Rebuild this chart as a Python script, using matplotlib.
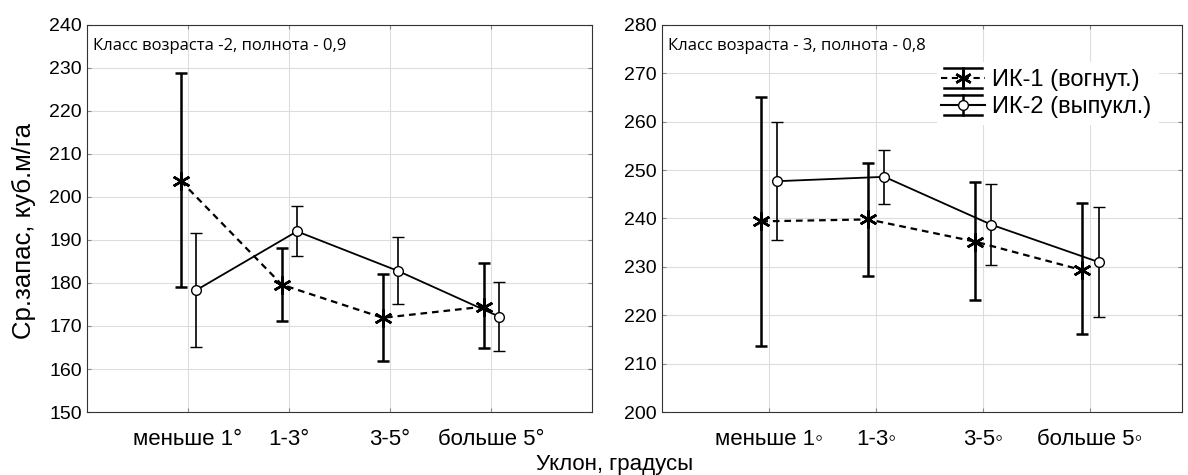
import numpy as np
import matplotlib
matplotlib.use("Agg")
import matplotlib.pyplot as plt
from matplotlib.lines import Line2D

plt.rcParams['font.family'] = ['Liberation Sans', 'DejaVu Sans']

cats_left = ["меньше 1°", "1-3°", "3-5°", "больше 5°"]
cats_right = ["меньше 1◦", "1-3◦", "3-5◦", "больше 5◦"]
labels = ['ИК-1 (вогнут.)', 'ИК-2 (выпукл.)']

# класс возраста 2, полнота 0,9
ik1_l = [203.7, 179.6, 171.9, 174.5]
ik1_l_lo = [179.0, 171.2, 161.8, 164.8]
ik1_l_hi = [228.8, 188.2, 182.1, 184.6]
ik2_l = [178.3, 192.0, 182.8, 172.2]
ik2_l_lo = [165.2, 186.2, 175.0, 164.3]
ik2_l_hi = [191.6, 198.0, 190.6, 180.3]

# класс возраста 3, полнота 0,8
ik1_r = [239.4, 239.8, 235.2, 229.3]
ik1_r_lo = [213.6, 228.1, 223.1, 216.1]
ik1_r_hi = [265.2, 251.4, 247.6, 243.2]
ik2_r = [247.7, 248.6, 238.7, 231.0]
ik2_r_lo = [235.5, 243.0, 230.3, 219.7]
ik2_r_hi = [260.0, 254.1, 247.2, 242.4]

star = (6, 2, 0)
dash = (0, (3, 2.2))


class ErrHandler:
    # рисует значок легенды как в statistica: линия, усы с широкими засечками, маркер
    def __init__(self, ls, marker, ms, mfc, mew, lw):
        self.ls, self.marker, self.ms, self.mfc, self.mew, self.lw = ls, marker, ms, mfc, mew, lw

    def legend_artist(self, legend, orig_handle, fontsize, handlebox):
        x0, y0 = -handlebox.xdescent, -handlebox.ydescent
        w, h = handlebox.width, handlebox.height
        cx, cy = x0 + w / 2, y0 + h / 2
        ext = 0.62 * h
        arts = [
            Line2D([x0 - 2, x0 + w + 2], [cy, cy], color='black', ls=self.ls, lw=1.5),
            Line2D([cx, cx], [cy - ext, cy + ext], color='black', lw=self.lw),
            Line2D([x0, x0 + w], [cy - ext, cy - ext], color='black', lw=self.lw),
            Line2D([x0, x0 + w], [cy + ext, cy + ext], color='black', lw=self.lw),
            Line2D([cx], [cy], color='black', ls='none', marker=self.marker, ms=self.ms,
                   mfc=self.mfc, mew=self.mew),
        ]
        for a in arts:
            a.set_transform(handlebox.get_transform())
            handlebox.add_artist(a)
        return arts[0]


fig = plt.figure(figsize=(11.88, 4.75), dpi=100)
ax1 = fig.add_axes([0.0732, 0.1326, 0.425, 0.815])
ax2 = fig.add_axes([0.557, 0.1326, 0.438, 0.815])


def draw(ax, m1, lo1, hi1, m2, lo2, hi2, cats, ylim, xmax, note):
    x = np.arange(1, 5)
    m1, lo1, hi1 = map(np.array, (m1, lo1, hi1))
    m2, lo2, hi2 = map(np.array, (m2, lo2, hi2))
    h1 = ax.errorbar(x - 0.07, m1, yerr=[m1 - lo1, hi1 - m1], color='black', ls=dash,
                     lw=1.6, marker=star, ms=13, mew=1.8, capsize=4, elinewidth=1.8, capthick=1.8)
    h1[-1][0].set_linestyle('-')
    ax.errorbar(x + 0.08, m2, yerr=[m2 - lo2, hi2 - m2], color='black', ls='-', lw=1.3,
                marker='o', ms=7, mfc='white', mew=1, capsize=4, elinewidth=1.2, capthick=1.2)
    ax.set_xlim(0, xmax)
    ax.set_ylim(*ylim)
    ax.set_xticks(x)
    ax.set_xticklabels(cats)
    ax.set_yticks(np.arange(ylim[0], ylim[1] + 1, 10))
    ax.grid(True, color='#dddddd', lw=0.8)
    ax.tick_params(labelsize=14, direction='in', length=3, top=True, right=True, color='#888888')
    ax.tick_params(axis='x', pad=12, labelsize=16)
    for s in ax.spines.values():
        s.set_color('#333333')
    ax.text(0.012, 0.946, note, transform=ax.transAxes, ha='left', va='center', fontsize=12,
            family=['Open Sans', 'DejaVu Sans'])


draw(ax1, ik1_l, ik1_l_lo, ik1_l_hi, ik2_l, ik2_l_lo, ik2_l_hi, cats_left, (150, 240), 5.0,
     'Класс возраста -2, полнота - 0,9')
draw(ax2, ik1_r, ik1_r_lo, ik1_r_hi, ik2_r, ik2_r_lo, ik2_r_hi, cats_right, (200, 280), 4.86,
     'Класс возраста - 3, полнота - 0,8')

p1 = Line2D([], [], color='black')
p2 = Line2D([], [], color='black')
leg = ax2.legend([p1, p2], labels, loc='center', bbox_to_anchor=(0.742, 0.822), fontsize=17,
                 frameon=True, facecolor='white', edgecolor='none', framealpha=1, fancybox=False,
                 borderpad=0.3, handlelength=1.6, handletextpad=0.45, labelspacing=0.22,
                 handler_map={p1: ErrHandler(dash, star, 12, 'black', 1.8, 1.8),
                              p2: ErrHandler('-', 'o', 7, 'white', 1, 1.8)})

fig.text(0.020, 0.514, 'Ср.запас, куб.м/га', rotation=90, ha='center', va='center', fontsize=18.5)
fig.text(0.517, 0.023, 'Уклон, градусы', ha='center', va='center', fontsize=16)

fig.savefig('out.png', dpi=100)
